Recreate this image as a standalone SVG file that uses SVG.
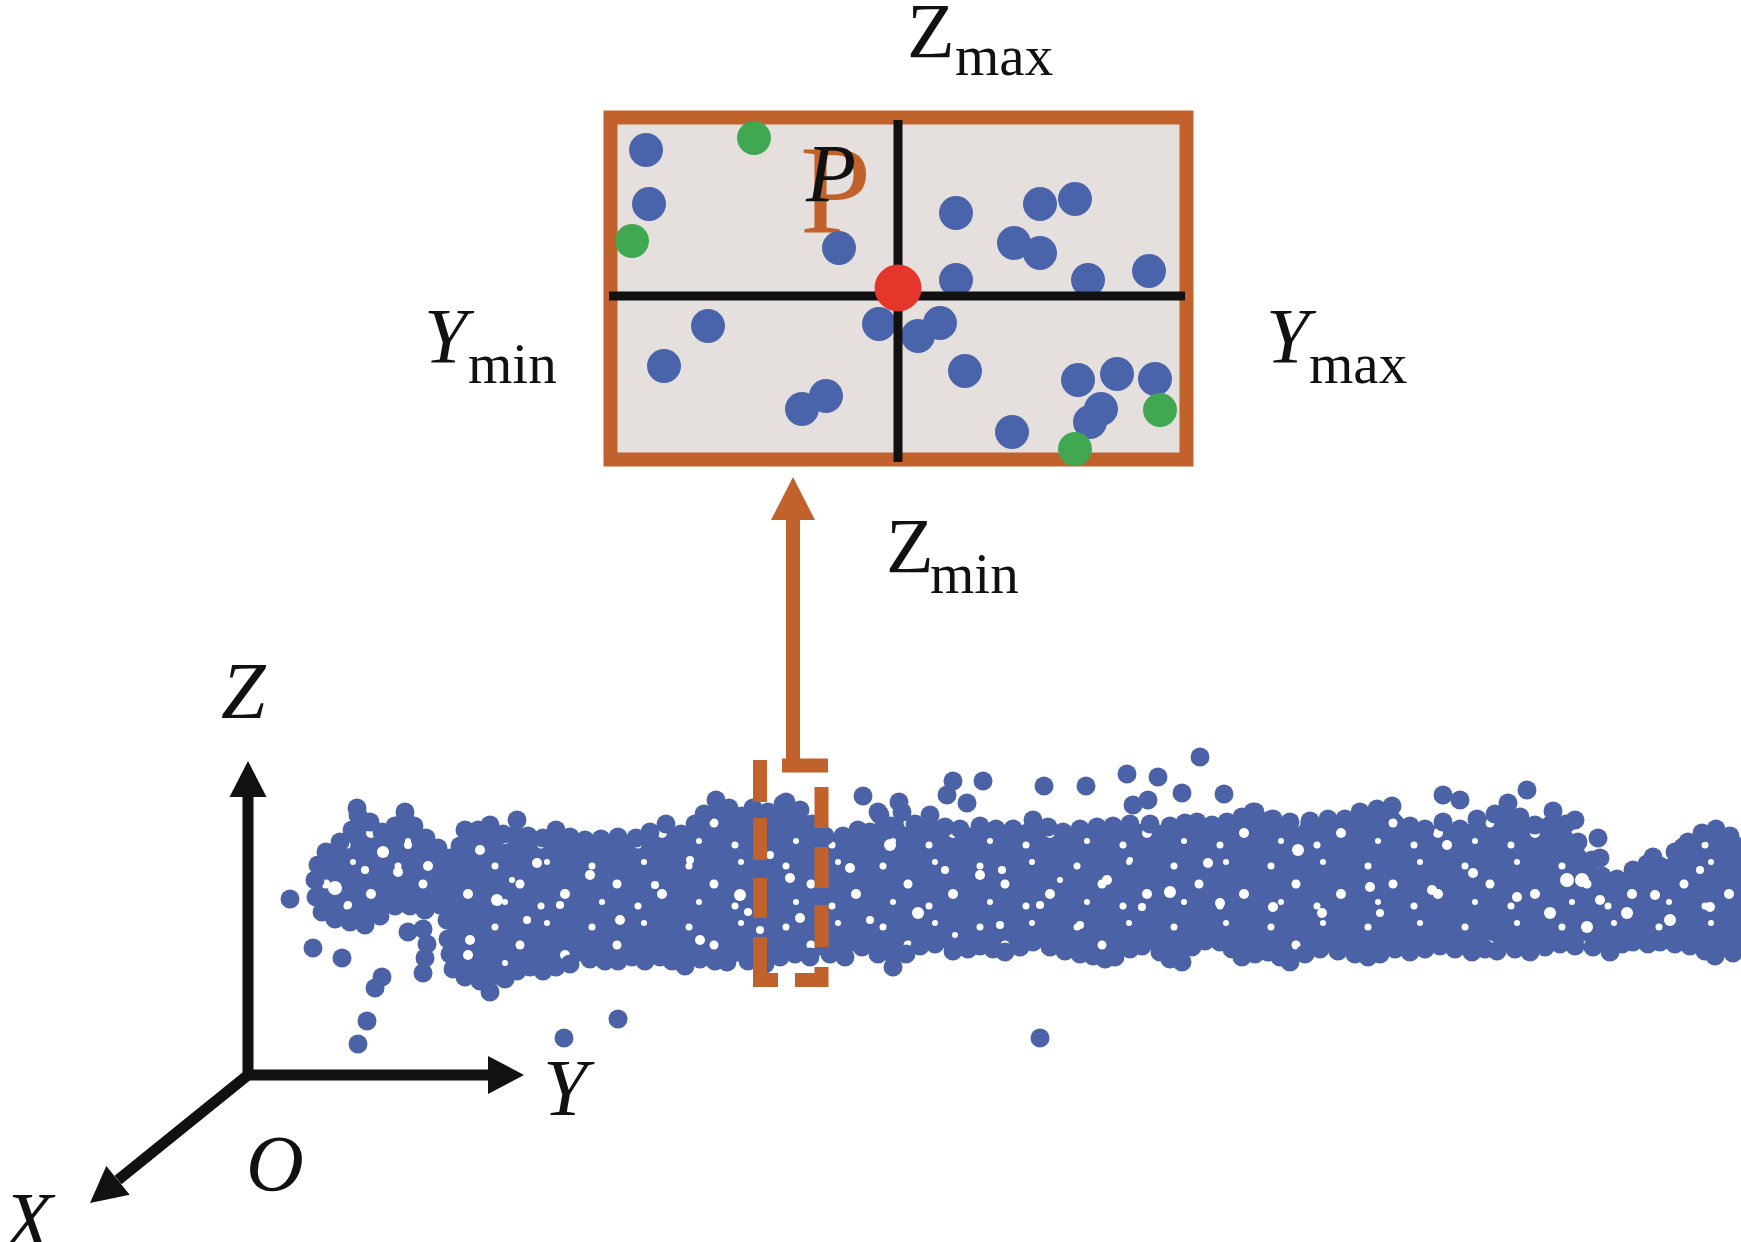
<svg xmlns="http://www.w3.org/2000/svg" width="1741" height="1242" viewBox="0 0 1741 1242">
<defs>
<style>
.lbl{font-family:"Liberation Serif","Times New Roman",serif;fill:#111}
.it{font-style:italic}
.pc circle{fill:#4b63a6}
.pc .hole circle{fill:#fff}
.orange{fill:#c1622c}
</style>
<pattern id="holesA" width="97" height="61" patternUnits="userSpaceOnUse">
<rect width="97" height="61" fill="#4b63a6"/>
<g fill="#fff"><circle cx="10" cy="12" r="3.5"/><circle cx="35" cy="30" r="4.5"/><circle cx="62" cy="8" r="3"/><circle cx="80" cy="40" r="5"/><circle cx="20" cy="48" r="3"/><circle cx="56" cy="52" r="3.5"/></g>
</pattern>
<polygon id="core" points="315,880 318,865 326,852 340,842 352,830 358,815 370,822 382,832 395,826 405,818 414,826 426,838 438,848 450,858 460,846 465,830 478,830 490,825 503,834 517,820 528,836 543,838 556,830 570,837 585,840 601,839 618,837 636,838 650,832 666,824 681,834 695,824 704,814 716,800 729,808 742,816 753,808 768,812 783,804 800,810 812,824 825,836 843,836 858,830 870,832 880,815 891,826 902,812 915,824 930,815 945,827 960,829 980,826 996,829 1013,829 1033,820 1048,827 1063,832 1080,829 1097,827 1113,826 1130,824 1150,824 1170,826 1185,823 1197,822 1212,825 1227,822 1242,817 1255,812 1273,819 1290,822 1310,821 1328,819 1345,819 1360,812 1377,809 1392,806 1410,826 1425,829 1443,822 1460,829 1477,819 1495,814 1508,803 1520,817 1535,825 1553,811 1566,824 1578,842 1592,860 1602,876 1617,879 1633,870 1647,864 1660,866 1675,852 1688,842 1702,833 1716,829 1730,836 1745,838 1745,950 1733,953 1715,956 1705,951 1690,946 1675,944 1660,942 1648,944 1633,942 1622,944 1610,952 1593,947 1575,946 1560,944 1545,947 1530,952 1515,949 1497,951 1485,949 1472,952 1455,949 1440,946 1425,949 1410,952 1395,949 1380,954 1368,957 1355,954 1338,951 1320,949 1305,954 1290,962 1280,957 1268,952 1255,954 1242,957 1232,949 1220,942 1205,941 1192,947 1182,962 1170,959 1160,952 1142,946 1130,949 1115,957 1105,959 1093,956 1080,954 1065,951 1050,947 1033,942 1020,947 1005,952 993,949 980,946 968,949 953,951 935,944 920,946 906,954 893,967 878,954 862,947 845,957 830,954 810,957 795,954 780,957 765,964 748,961 727,962 715,961 700,959 685,966 672,961 660,957 645,961 632,957 618,961 605,961 590,959 570,964 556,967 543,971 530,967 517,971 505,979 490,992 480,981 465,977 453,969 450,954 448,939 447,920 440,905 425,910 410,906 395,906 380,916 365,925 350,922 335,919 322,912 316,897"/>
</defs>
<rect width="1741" height="1242" fill="#fff"/>
<!-- point cloud -->
<g id="cloud" class="pc">
<use href="#core" fill="url(#holesA)"/>
<g class="hole">
<circle cx="383" cy="852" r="6"/><circle cx="408" cy="845" r="4"/><circle cx="398" cy="872" r="5"/><circle cx="335" cy="888" r="7"/><circle cx="348" cy="905" r="4"/><circle cx="428" cy="866" r="5"/><circle cx="365" cy="870" r="4"/>
<circle cx="480" cy="850" r="5"/><circle cx="497" cy="900" r="6"/><circle cx="470" cy="940" r="5"/><circle cx="527" cy="920" r="4"/><circle cx="537" cy="863" r="5"/><circle cx="512" cy="880" r="3"/><circle cx="560" cy="905" r="4"/><circle cx="590" cy="875" r="5"/><circle cx="620" cy="920" r="5"/><circle cx="655" cy="885" r="4"/><circle cx="700" cy="940" r="5"/><circle cx="690" cy="860" r="4"/><circle cx="740" cy="895" r="6"/><circle cx="760" cy="930" r="4"/><circle cx="770" cy="855" r="4"/>
<circle cx="790" cy="878" r="5"/><circle cx="800" cy="918" r="5"/><circle cx="748" cy="912" r="4"/>
<circle cx="890" cy="845" r="6"/><circle cx="850" cy="868" r="5"/><circle cx="918" cy="913" r="6"/><circle cx="980" cy="875" r="5"/><circle cx="1002" cy="870" r="4"/><circle cx="1107" cy="880" r="5"/><circle cx="1170" cy="892" r="6"/><circle cx="1208" cy="863" r="5"/><circle cx="1220" cy="903" r="5"/><circle cx="1142" cy="907" r="4"/><circle cx="945" cy="870" r="4"/><circle cx="1040" cy="905" r="4"/><circle cx="1060" cy="880" r="3"/><circle cx="1080" cy="925" r="4"/><circle cx="1000" cy="925" r="4"/><circle cx="870" cy="920" r="4"/><circle cx="955" cy="935" r="3"/><circle cx="1130" cy="860" r="3"/>
<circle cx="1298" cy="850" r="6"/><circle cx="1273" cy="907" r="5"/><circle cx="1322" cy="913" r="5"/><circle cx="1370" cy="887" r="5"/><circle cx="1380" cy="913" r="4"/><circle cx="1432" cy="890" r="5"/><circle cx="1447" cy="845" r="5"/><circle cx="1473" cy="873" r="5"/><circle cx="1517" cy="897" r="5"/><circle cx="1550" cy="913" r="6"/><circle cx="1567" cy="880" r="7"/><circle cx="1587" cy="927" r="6"/><circle cx="1627" cy="913" r="6"/><circle cx="1670" cy="920" r="6"/><circle cx="1710" cy="907" r="5"/><circle cx="1655" cy="895" r="5"/><circle cx="1700" cy="870" r="4"/><circle cx="1600" cy="900" r="5"/><circle cx="1582" cy="880" r="7"/>
</g>
<circle cx="315" cy="880" r="9.5"/><circle cx="318" cy="865" r="9.5"/><circle cx="326" cy="852" r="9.5"/><circle cx="340" cy="842" r="9.5"/><circle cx="352" cy="830" r="9.5"/><circle cx="358" cy="815" r="9.5"/><circle cx="370" cy="822" r="9.5"/><circle cx="382" cy="832" r="9.5"/><circle cx="395" cy="826" r="9.5"/><circle cx="405" cy="818" r="9.5"/><circle cx="414" cy="826" r="9.5"/><circle cx="426" cy="838" r="9.5"/><circle cx="438" cy="848" r="9.5"/><circle cx="450" cy="858" r="9.5"/><circle cx="460" cy="846" r="9.5"/><circle cx="465" cy="830" r="9.5"/><circle cx="478" cy="830" r="9.5"/><circle cx="490" cy="825" r="9.5"/><circle cx="503" cy="834" r="9.5"/><circle cx="517" cy="820" r="9.5"/><circle cx="528" cy="836" r="9.5"/><circle cx="543" cy="838" r="9.5"/><circle cx="556" cy="830" r="9.5"/><circle cx="570" cy="837" r="9.5"/><circle cx="585" cy="840" r="9.5"/><circle cx="601" cy="839" r="9.5"/><circle cx="618" cy="837" r="9.5"/><circle cx="636" cy="838" r="9.5"/><circle cx="650" cy="832" r="9.5"/><circle cx="666" cy="824" r="9.5"/><circle cx="681" cy="834" r="9.5"/><circle cx="695" cy="824" r="9.5"/><circle cx="704" cy="814" r="9.5"/><circle cx="716" cy="800" r="9.5"/><circle cx="729" cy="808" r="9.5"/><circle cx="742" cy="816" r="9.5"/><circle cx="753" cy="808" r="9.5"/><circle cx="768" cy="812" r="9.5"/><circle cx="783" cy="804" r="9.5"/><circle cx="800" cy="810" r="9.5"/><circle cx="812" cy="824" r="9.5"/><circle cx="825" cy="836" r="9.5"/><circle cx="843" cy="836" r="9.5"/><circle cx="858" cy="830" r="9.5"/><circle cx="870" cy="832" r="9.5"/><circle cx="880" cy="815" r="9.5"/><circle cx="891" cy="826" r="9.5"/><circle cx="902" cy="812" r="9.5"/><circle cx="915" cy="824" r="9.5"/><circle cx="930" cy="815" r="9.5"/><circle cx="945" cy="827" r="9.5"/><circle cx="960" cy="829" r="9.5"/><circle cx="980" cy="826" r="9.5"/><circle cx="996" cy="829" r="9.5"/><circle cx="1013" cy="829" r="9.5"/><circle cx="1033" cy="820" r="9.5"/><circle cx="1048" cy="827" r="9.5"/><circle cx="1063" cy="832" r="9.5"/><circle cx="1080" cy="829" r="9.5"/><circle cx="1097" cy="827" r="9.5"/><circle cx="1113" cy="826" r="9.5"/><circle cx="1130" cy="824" r="9.5"/><circle cx="1150" cy="824" r="9.5"/><circle cx="1170" cy="826" r="9.5"/><circle cx="1185" cy="823" r="9.5"/><circle cx="1197" cy="822" r="9.5"/><circle cx="1212" cy="825" r="9.5"/><circle cx="1227" cy="822" r="9.5"/><circle cx="1242" cy="817" r="9.5"/><circle cx="1255" cy="812" r="9.5"/><circle cx="1273" cy="819" r="9.5"/><circle cx="1290" cy="822" r="9.5"/><circle cx="1310" cy="821" r="9.5"/><circle cx="1328" cy="819" r="9.5"/><circle cx="1345" cy="819" r="9.5"/><circle cx="1360" cy="812" r="9.5"/><circle cx="1377" cy="809" r="9.5"/><circle cx="1392" cy="806" r="9.5"/><circle cx="1410" cy="826" r="9.5"/><circle cx="1425" cy="829" r="9.5"/><circle cx="1443" cy="822" r="9.5"/><circle cx="1460" cy="829" r="9.5"/><circle cx="1477" cy="819" r="9.5"/><circle cx="1495" cy="814" r="9.5"/><circle cx="1508" cy="803" r="9.5"/><circle cx="1520" cy="817" r="9.5"/><circle cx="1535" cy="825" r="9.5"/><circle cx="1553" cy="811" r="9.5"/><circle cx="1566" cy="824" r="9.5"/><circle cx="1578" cy="842" r="9.5"/><circle cx="1592" cy="860" r="9.5"/><circle cx="1602" cy="876" r="9.5"/><circle cx="1617" cy="879" r="9.5"/><circle cx="1633" cy="870" r="9.5"/><circle cx="1647" cy="864" r="9.5"/><circle cx="1660" cy="866" r="9.5"/><circle cx="1675" cy="852" r="9.5"/><circle cx="1688" cy="842" r="9.5"/><circle cx="1702" cy="833" r="9.5"/><circle cx="1716" cy="829" r="9.5"/><circle cx="1730" cy="836" r="9.5"/>
<circle cx="1733" cy="953" r="9.5"/><circle cx="1715" cy="956" r="9.5"/><circle cx="1705" cy="951" r="9.5"/><circle cx="1690" cy="946" r="9.5"/><circle cx="1675" cy="944" r="9.5"/><circle cx="1660" cy="942" r="9.5"/><circle cx="1648" cy="944" r="9.5"/><circle cx="1633" cy="942" r="9.5"/><circle cx="1622" cy="944" r="9.5"/><circle cx="1610" cy="952" r="9.5"/><circle cx="1593" cy="947" r="9.5"/><circle cx="1575" cy="946" r="9.5"/><circle cx="1560" cy="944" r="9.5"/><circle cx="1545" cy="947" r="9.5"/><circle cx="1530" cy="952" r="9.5"/><circle cx="1515" cy="949" r="9.5"/><circle cx="1497" cy="951" r="9.5"/><circle cx="1485" cy="949" r="9.5"/><circle cx="1472" cy="952" r="9.5"/><circle cx="1455" cy="949" r="9.5"/><circle cx="1440" cy="946" r="9.5"/><circle cx="1425" cy="949" r="9.5"/><circle cx="1410" cy="952" r="9.5"/><circle cx="1395" cy="949" r="9.5"/><circle cx="1380" cy="954" r="9.5"/><circle cx="1368" cy="957" r="9.5"/><circle cx="1355" cy="954" r="9.5"/><circle cx="1338" cy="951" r="9.5"/><circle cx="1320" cy="949" r="9.5"/><circle cx="1305" cy="954" r="9.5"/><circle cx="1290" cy="962" r="9.5"/><circle cx="1280" cy="957" r="9.5"/><circle cx="1268" cy="952" r="9.5"/><circle cx="1255" cy="954" r="9.5"/><circle cx="1242" cy="957" r="9.5"/><circle cx="1232" cy="949" r="9.5"/><circle cx="1220" cy="942" r="9.5"/><circle cx="1205" cy="941" r="9.5"/><circle cx="1192" cy="947" r="9.5"/><circle cx="1182" cy="962" r="9.5"/><circle cx="1170" cy="959" r="9.5"/><circle cx="1160" cy="952" r="9.5"/><circle cx="1142" cy="946" r="9.5"/><circle cx="1130" cy="949" r="9.5"/><circle cx="1115" cy="957" r="9.5"/><circle cx="1105" cy="959" r="9.5"/><circle cx="1093" cy="956" r="9.5"/><circle cx="1080" cy="954" r="9.5"/><circle cx="1065" cy="951" r="9.5"/><circle cx="1050" cy="947" r="9.5"/><circle cx="1033" cy="942" r="9.5"/><circle cx="1020" cy="947" r="9.5"/><circle cx="1005" cy="952" r="9.5"/><circle cx="993" cy="949" r="9.5"/><circle cx="980" cy="946" r="9.5"/><circle cx="968" cy="949" r="9.5"/><circle cx="953" cy="951" r="9.5"/><circle cx="935" cy="944" r="9.5"/><circle cx="920" cy="946" r="9.5"/><circle cx="906" cy="954" r="9.5"/><circle cx="893" cy="967" r="9.5"/><circle cx="878" cy="954" r="9.5"/><circle cx="862" cy="947" r="9.5"/><circle cx="845" cy="957" r="9.5"/><circle cx="830" cy="954" r="9.5"/><circle cx="810" cy="957" r="9.5"/><circle cx="795" cy="954" r="9.5"/><circle cx="780" cy="957" r="9.5"/><circle cx="765" cy="964" r="9.5"/><circle cx="748" cy="961" r="9.5"/><circle cx="727" cy="962" r="9.5"/><circle cx="715" cy="961" r="9.5"/><circle cx="700" cy="959" r="9.5"/><circle cx="685" cy="966" r="9.5"/><circle cx="672" cy="961" r="9.5"/><circle cx="660" cy="957" r="9.5"/><circle cx="645" cy="961" r="9.5"/><circle cx="632" cy="957" r="9.5"/><circle cx="618" cy="961" r="9.5"/><circle cx="605" cy="961" r="9.5"/><circle cx="590" cy="959" r="9.5"/><circle cx="570" cy="964" r="9.5"/><circle cx="556" cy="967" r="9.5"/><circle cx="543" cy="971" r="9.5"/><circle cx="530" cy="967" r="9.5"/><circle cx="517" cy="971" r="9.5"/><circle cx="505" cy="979" r="9.5"/><circle cx="490" cy="992" r="9.5"/><circle cx="480" cy="981" r="9.5"/><circle cx="465" cy="977" r="9.5"/><circle cx="453" cy="969" r="9.5"/><circle cx="450" cy="954" r="9.5"/><circle cx="448" cy="939" r="9.5"/><circle cx="447" cy="920" r="9.5"/><circle cx="440" cy="905" r="9.5"/><circle cx="425" cy="910" r="9.5"/><circle cx="410" cy="906" r="9.5"/><circle cx="395" cy="906" r="9.5"/><circle cx="380" cy="916" r="9.5"/><circle cx="365" cy="925" r="9.5"/><circle cx="350" cy="922" r="9.5"/><circle cx="335" cy="919" r="9.5"/><circle cx="322" cy="912" r="9.5"/><circle cx="316" cy="897" r="9.5"/>
<circle cx="357" cy="808" r="9.5"/><circle cx="405" cy="812" r="9.5"/><circle cx="290" cy="899" r="9.5"/><circle cx="313" cy="948" r="9.5"/><circle cx="342" cy="958" r="9.5"/><circle cx="382" cy="977" r="9.5"/><circle cx="375" cy="988" r="9.5"/><circle cx="367" cy="1021" r="9.5"/><circle cx="358" cy="1044" r="9.5"/><circle cx="564" cy="1038" r="9.5"/><circle cx="618" cy="1019" r="9.5"/><circle cx="1040" cy="1038" r="9.5"/>
<circle cx="408" cy="932" r="9.5"/><circle cx="423" cy="929" r="9.5"/><circle cx="427" cy="944" r="9.5"/><circle cx="425" cy="958" r="9.5"/><circle cx="423" cy="973" r="9.5"/>
<circle cx="786" cy="802" r="9.5"/><circle cx="863" cy="796" r="9.5"/><circle cx="878" cy="812" r="9.5"/><circle cx="899" cy="802" r="9.5"/><circle cx="947" cy="795" r="9.5"/><circle cx="953" cy="781" r="9.5"/><circle cx="967" cy="803" r="9.5"/><circle cx="983" cy="781" r="9.5"/><circle cx="1044" cy="786" r="9.5"/><circle cx="1086" cy="786" r="9.5"/><circle cx="1127" cy="774" r="9.5"/><circle cx="1133" cy="805" r="9.5"/><circle cx="1148" cy="800" r="9.5"/><circle cx="1158" cy="777" r="9.5"/><circle cx="1182" cy="793" r="9.5"/><circle cx="1200" cy="757" r="9.5"/><circle cx="1224" cy="794" r="9.5"/><circle cx="1253" cy="812" r="9.5"/><circle cx="1270" cy="820" r="9.5"/>
<circle cx="1443" cy="795" r="9.5"/><circle cx="1460" cy="800" r="9.5"/><circle cx="1527" cy="790" r="9.5"/><circle cx="1575" cy="820" r="9.5"/><circle cx="1598" cy="838" r="9.5"/><circle cx="1600" cy="858" r="9.5"/><circle cx="1653" cy="857" r="9.5"/><circle cx="1683" cy="847" r="9.5"/>
</g>
<!-- axes -->
<g id="axes" fill="#111" stroke="#111">
<path d="M248,797 L248,1075 L488,1075 M248,1075 L118,1180" fill="none" stroke-width="11" stroke-linejoin="miter"/>
<polygon stroke="none" points="248,761 266.5,797 229.5,797"/>
<polygon stroke="none" points="524,1075 488,1056 488,1094"/>
<polygon stroke="none" points="90,1203 129.7,1194.7 106.3,1165.9"/>
</g>
<g id="axis-labels">
<text class="lbl it" x="221" y="718" font-size="80">Z</text>
<text class="lbl it" x="543" y="1115" font-size="80">Y</text>
<text class="lbl it" x="246" y="1191" font-size="80">O</text>
<text class="lbl it" x="4" y="1248" font-size="80">X</text>
</g>
<!-- connectors -->
<g id="connectors">
<g id="dashed-selection" stroke="#c1622c" stroke-width="14" fill="none" stroke-linecap="butt">
<path d="M760,760 V802 M760,818 V860 M760,878 V918 M760,937 V987 M753,980 H778"/>
<path d="M821.5,787 V828 M821.5,847 V888 M821.5,905 V947 M821.5,967 V987 M795,980 H828"/>
<path d="M782,765.5 H828"/>
</g>
<g id="arrow" class="orange">
<rect x="786" y="518" width="14" height="250"/>
<polygon points="793,477 815,520 771,520"/>
</g>
</g>
<!-- projection box -->
<g id="projection-box">
<rect x="610.5" y="117.5" width="576" height="342" fill="#e5e0dd" stroke="#c1622c" stroke-width="14"/>
<text x="800" y="233" font-family="Liberation Serif, Times New Roman, serif" font-size="128" fill="#c1622c">P</text>
<text class="lbl it" x="806" y="201" font-size="82">P</text>
<g fill="#4a64ab">
<circle cx="646" cy="150" r="17"/><circle cx="649" cy="204" r="17"/><circle cx="839" cy="248" r="17"/><circle cx="956" cy="213" r="17"/><circle cx="1040" cy="204" r="17"/><circle cx="1075" cy="199" r="17"/><circle cx="1014" cy="243" r="17"/><circle cx="1040" cy="253" r="17"/><circle cx="956" cy="280" r="17"/><circle cx="1088" cy="280" r="17"/><circle cx="1149" cy="271" r="17"/><circle cx="708" cy="326" r="17"/><circle cx="664" cy="366" r="17"/><circle cx="826" cy="396" r="17"/><circle cx="802" cy="409" r="17"/><circle cx="879" cy="324" r="17"/><circle cx="918" cy="336" r="17"/><circle cx="940" cy="323" r="17"/><circle cx="965" cy="371" r="17"/><circle cx="1078" cy="380" r="17"/><circle cx="1117" cy="374" r="17"/><circle cx="1155" cy="379" r="17"/><circle cx="1101" cy="409" r="17"/><circle cx="1090" cy="422" r="17"/><circle cx="1012" cy="432" r="17"/>
</g>
<g fill="#41a851">
<circle cx="632" cy="241" r="17"/><circle cx="754" cy="138" r="17"/><circle cx="1160" cy="410" r="17"/><circle cx="1075" cy="449" r="17"/>
</g>
<g stroke="#111" stroke-width="9">
<line x1="898" y1="120" x2="898" y2="462"/>
<line x1="609" y1="296" x2="1185" y2="296"/>
</g>
<circle cx="898" cy="288" r="23.5" fill="#e5362c"/>
</g>
<g id="box-labels">
<text class="lbl" x="907" y="57" font-size="78">Z</text><text class="lbl" x="955" y="75" font-size="57">max</text>
<text class="lbl it" x="424" y="362" font-size="78">Y</text><text class="lbl" x="468" y="383" font-size="57">min</text>
<text class="lbl it" x="1266" y="362" font-size="78">Y</text><text class="lbl" x="1309" y="383" font-size="57">max</text>
<text class="lbl" x="886" y="572" font-size="78">Z</text><text class="lbl" x="930" y="593" font-size="57">min</text>
</g>
</svg>
